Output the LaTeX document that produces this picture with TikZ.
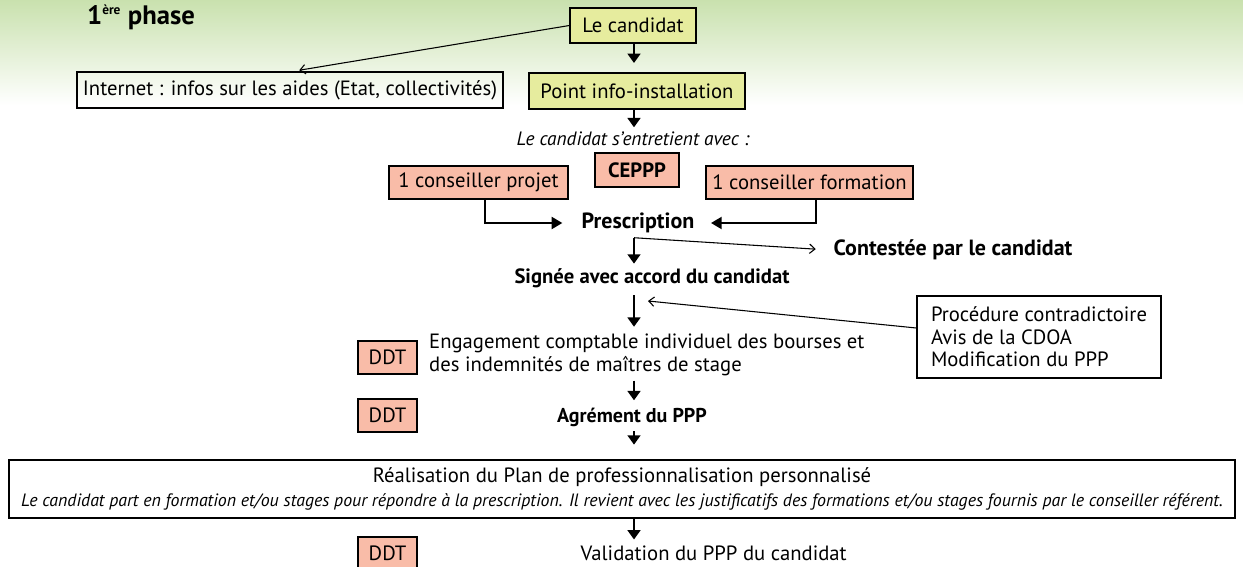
\documentclass[tikz,border=0pt]{standalone}
\usepackage{fontspec}
\setmainfont{PT Sans}
\usetikzlibrary{arrows.meta}
\definecolor{jaune}{RGB}{230,236,158}
\definecolor{saumon}{RGB}{249,188,168}
\definecolor{vert}{RGB}{201,225,174}

\begin{document}
\begin{tikzpicture}[x=0.75pt,y=-0.75pt,
  every node/.style={font=\fontsize{15.5}{17}\selectfont},
  boite/.style={draw, line width=1pt, inner sep=0pt, minimum height=25pt},
  candbox/.style={boite, fill=jaune},
  ddtbox/.style={boite, fill=saumon},
  titre/.style={font=\fontsize{#1}{18}\selectfont\bfseries},
  titre/.default=15,
  fleche/.style={line width=2pt, -{Triangle[width=9.5pt,length=7pt]}},
  coude/.style={line width=1.5pt, -{Triangle[width=9pt,length=8pt]}},
  fine/.style={line width=0.8pt, -{Straight Barb[length=4pt,width=7pt]}}
]
  \useasboundingbox (0,0) rectangle (1243,567);
  \fill[top color=vert, bottom color=white] (0,0) rectangle (1243,105);

  \coordinate (axe) at (634,0);

  \node[titre=20] (phase) at (141,17) {1\textsuperscript{\fontsize{10}{10}\selectfont ère} phase};

  \node[candbox, minimum width=94.5pt, minimum height=26.25pt] (cand) at (633,25.5) {Le candidat};
  \node[candbox, minimum width=162pt, minimum height=27pt] (point) at (637,91) {Point info-installation};
  \node[boite, minimum width=319.5pt, minimum height=27pt] (internet) at (290,90) {Internet : infos sur les aides (Etat, collectivités)};

  \node[font=\fontsize{14.5}{17}\selectfont\itshape] (entretien) at (633,139) {Le candidat s’entretient avec :};
  \node[ddtbox, minimum width=63pt, minimum height=25.5pt, titre=15.5] (ceppp) at (637,170) {CEPPP};
  \node[ddtbox, minimum width=134.25pt, minimum height=24.75pt] (projet) at (478.5,182.5) {1 conseiller projet};
  \node[ddtbox, minimum width=155.25pt, minimum height=24.75pt] (formation) at (809.5,182.5) {1 conseiller formation};

  \node[titre=16.5] (prescription) at (638,223) {Prescription};
  \node[titre=16.5, anchor=west] (contestee) at (829,250) {Contestée par le candidat};
  \node[titre=15.5] (signee) at (652,278) {Signée avec accord du candidat};

  \node[boite, minimum width=183pt, minimum height=61.5pt, align=left] (procedure) at (1039,337)
    {Procédure contradictoire\\Avis de la CDOA\\Modification du PPP};
  \coordinate (retour) at (648,301);

  \node[ddtbox, minimum width=44.25pt, minimum height=24.75pt] (ddt1) at (387.5,357.5) {DDT};
  \node[anchor=west, align=left] (engagement) at (424.5,355)
    {Engagement comptable individuel des bourses et\\des indemnités de maîtres de stage};

  \node[ddtbox, minimum width=44.25pt, minimum height=24.75pt] (ddt2) at (387.5,415.5) {DDT};
  \node[titre=15] (agrement) at (632,417) {Agrément du PPP};

  \node[boite, minimum width=919.5pt, minimum height=43.5pt, align=center] (realisation) at (622,489)
    {Réalisation du Plan de professionnalisation personnalisé\\[1pt]
     {\fontsize{13.4}{15}\selectfont\itshape Le candidat part en formation et/ou stages pour répondre à la prescription. Il revient avec les justificatifs des formations et/ou stages fournis par le conseiller référent.}};

  \node[ddtbox, minimum width=44.25pt, minimum height=24.75pt] (ddt3) at (387.5,553.5) {DDT};
  \node[anchor=west] (validation) at (576,553) {Validation du PPP du candidat};

  % fleches principales
  \draw[fleche, shorten >=7pt] (cand.south -| axe) -- (point.north -| axe);
  \draw[fleche] (point.south -| axe) -- (entretien.north -| axe);
  \draw[fleche] (prescription.south -| axe) -- (signee.north -| axe);
  \draw[fleche, shorten <=2pt, shorten >=2pt] (signee.south -| axe) -- (engagement.north -| axe);
  \draw[fleche, shorten >=2pt] (engagement.south -| axe) -- (agrement.north -| axe);
  \draw[fleche, shorten >=11pt] (agrement.south -| axe) -- (realisation.north -| axe);
  \draw[fleche, shorten >=1pt] (realisation.south -| axe) -- (validation.north -| axe);

  % conseillers
  \draw[coude, shorten >=11pt] ([xshift=4.5pt]projet.south) |- (prescription.west);
  \draw[coude, shorten >=9pt] ([xshift=5pt]formation.south) |- (prescription.east);

  % renvois
  \draw[fine, shorten >=5pt] (cand.west) -- ([xshift=2pt]internet.north);
  \draw[fine, shorten >=10pt] (prescription.south -| axe) -- (contestee.west);
  \draw[fine] ([yshift=6.75pt]procedure.west) -- (retour);
\end{tikzpicture}
\end{document}
